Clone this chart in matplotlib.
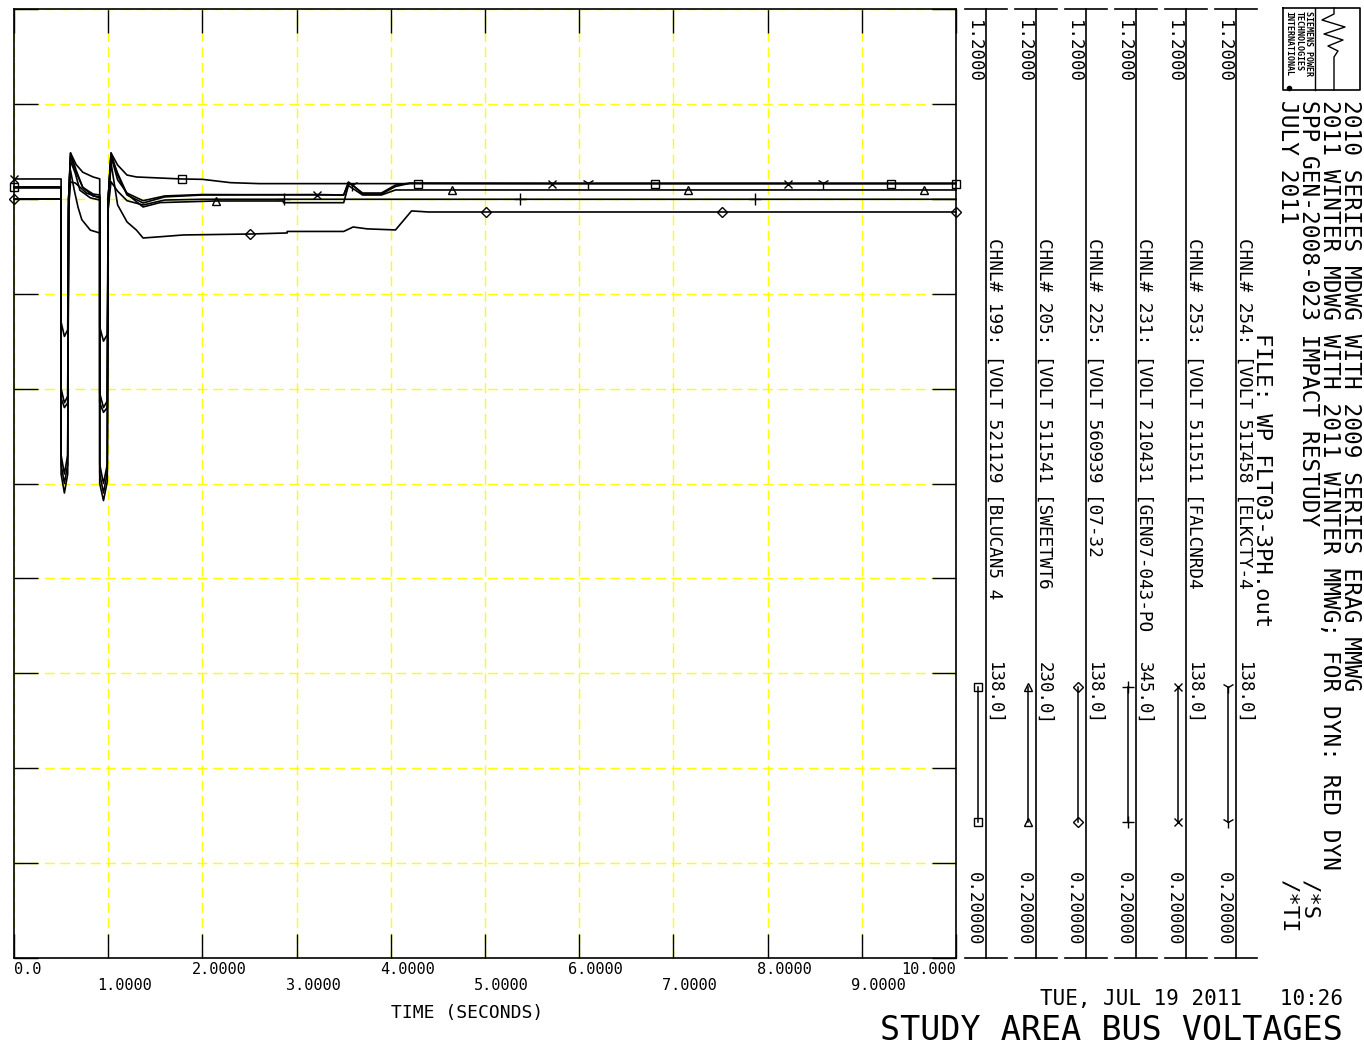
import matplotlib
matplotlib.use('Agg')
import matplotlib.pyplot as plt
from matplotlib.transforms import offset_copy

plt.rcParams['font.family'] = ['DejaVu Sans Mono']

# ---- channel data (time in s, voltage in pu) ----
t199 = [0.0, 0.50, 0.50, 0.535, 0.57, 0.58, 0.60, 0.66, 0.73, 0.84, 0.91, 0.91, 0.95, 0.99, 1.00, 1.03,
        1.10, 1.20, 1.30, 1.78, 2.00, 2.30, 2.60, 3.50, 4.29, 6.80, 9.31, 10.0]
v199 = [1.0124, 1.0124, 0.710, 0.690, 0.710, 1.000, 1.0483, 1.036, 1.028, 1.023, 1.021, 0.700, 0.682, 0.702,
        1.000, 1.0483, 1.0356, 1.025, 1.023, 1.0209, 1.0205, 1.017, 1.016, 1.016, 1.016, 1.016, 1.016, 1.016]

t205 = [0.0, 0.50, 0.50, 0.535, 0.57, 0.58, 0.60, 0.65, 0.70, 0.81, 0.91, 0.91, 0.95, 0.99, 1.00, 1.03,
        1.10, 1.20, 1.37, 1.55, 2.14, 2.86, 2.86, 3.50, 3.55, 3.70, 3.90, 4.05, 4.20, 4.65, 7.16, 9.66, 10.0]
v205 = [1.0114, 1.0114, 0.720, 0.700, 0.720, 1.000, 1.040, 1.027, 1.009, 1.001, 0.9987, 0.710, 0.690, 0.712,
        1.000, 1.045, 1.027, 1.005, 0.9914, 0.996, 0.9977, 0.9977, 0.9959, 0.9959, 1.014, 1.004, 1.004,
        1.0093, 1.0093, 1.0093, 1.0093, 1.0093, 1.0093]

t225 = [0.0, 0.50, 0.50, 0.535, 0.57, 0.58, 0.60, 0.64, 0.68, 0.72, 0.81, 0.91, 0.91, 0.95, 0.99, 1.00,
        1.03, 1.10, 1.20, 1.30, 1.37, 1.55, 1.80, 2.51, 2.90, 2.90, 3.50, 3.60, 3.75, 4.05, 4.22, 4.40,
        5.01, 7.52, 10.0]
v225 = [0.9998, 0.9998, 0.800, 0.785, 0.792, 0.990, 1.030, 1.009, 0.991, 0.978, 0.967, 0.964, 0.795, 0.780,
        0.787, 0.990, 1.038, 0.9935, 0.9756, 0.967, 0.9587, 0.960, 0.9619, 0.9629, 0.9640, 0.9656, 0.9656,
        0.9703, 0.9683, 0.9672, 0.9872, 0.9861, 0.9861, 0.9861, 0.9861]

t231 = [0.0, 0.50, 0.50, 0.535, 0.57, 0.58, 0.60, 0.65, 0.77, 0.91, 0.91, 0.95, 0.99, 1.00, 1.03, 1.10,
        1.20, 1.37, 1.60, 2.00, 2.87, 5.37, 7.87, 10.0]
v231 = [0.9998, 0.9998, 0.870, 0.855, 0.862, 0.990, 1.0177, 1.0167, 1.006, 1.0008, 0.865, 0.850, 0.857,
        0.990, 1.018, 1.008, 0.998, 0.9935, 0.9987, 0.9995, 0.9995, 0.9995, 0.9995, 0.9995]

t253 = [0.0, 0.50, 0.50, 0.535, 0.57, 0.58, 0.60, 0.66, 0.73, 0.84, 0.91, 0.91, 0.95, 0.99, 1.00, 1.03,
        1.10, 1.20, 1.37, 1.60, 2.00, 3.22, 3.50, 3.55, 3.70, 3.90, 4.05, 4.20, 5.71, 8.22, 10.0]
v253 = [1.0209, 1.0209, 0.790, 0.780, 0.785, 1.000, 1.0483, 1.030, 1.012, 1.003, 1.0019, 0.785, 0.775,
        0.780, 1.000, 1.0483, 1.025, 1.004, 0.9956, 1.002, 1.004, 1.0045, 1.004, 1.0177, 1.0061, 1.0061,
        1.0145, 1.0165, 1.0161, 1.0161, 1.0161]

t254 = [0.0, 0.50, 0.50, 0.535, 0.57, 0.58, 0.60, 0.65, 0.73, 0.84, 0.91, 0.91, 0.95, 0.99, 1.00, 1.03,
        1.10, 1.20, 1.37, 1.60, 2.00, 3.50, 3.55, 3.59, 3.70, 3.90, 4.05, 4.20, 6.09, 8.59, 10.0]
v254 = [1.0124, 1.0124, 0.730, 0.710, 0.730, 1.000, 1.045, 1.030, 1.012, 1.005, 1.004, 0.720, 0.700,
        0.720, 1.000, 1.045, 1.020, 1.006, 0.998, 1.003, 1.0045, 1.004, 1.016, 1.015, 1.005, 1.005, 1.013,
        1.0163, 1.0163, 1.0163, 1.0163]

# marker times on each trace
mk199 = [0.0, 1.78, 4.29, 6.80, 9.31, 10.0]
mk205 = [2.14, 4.65, 7.16, 9.66]
mk225 = [0.0, 2.51, 5.01, 7.52, 10.0]
mk231 = [2.87, 5.37, 7.87]
mk253 = [0.0, 3.22, 5.71, 8.22]
mk254 = [3.59, 6.09, 8.59]

chan_labels = ['CHNL# 199: [VOLT 521129 [BLUCAN5 4', 'CHNL# 205: [VOLT 511541 [SWEETWT6',
               'CHNL# 225: [VOLT 560939 [07-32', 'CHNL# 231: [VOLT 210431 [GEN07-043-PO',
               'CHNL# 253: [VOLT 511511 [FALCNRD4', 'CHNL# 254: [VOLT 511458 [ELKCTY-4']
chan_kv = ['138.0]', '230.0]', '138.0]', '345.0]', '138.0]', '138.0]']
y_max_lbl = '1.2000'
y_min_lbl = '0.20000'
x_ticks = [0, 1, 2, 3, 4, 5, 6, 7, 8, 9, 10]
x_tick_labels = ['0.0', '1.0000', '2.0000', '3.0000', '4.0000', '5.0000', '6.0000', '7.0000',
                 '8.0000', '9.0000', '10.000']
header = ['2010 SERIES MDWG WITH 2009 SERIES ERAG MMWG',
          '2011 WINTER MDWG WITH 2011 WINTER MMWG; FOR DYN: RED DYN',
          'SPP GEN-2008-023 IMPACT RESTUDY',
          'JULY 2011']

series = [(t199, v199, mk199, 's', 6), (t205, v205, mk205, '^', 6), (t225, v225, mk225, 'D', 5),
          (t231, v231, mk231, '+', 9), (t253, v253, mk253, 'x', 6), (t254, v254, mk254, '1', 9)]

W, H = 1364, 1045
fig = plt.figure(figsize=(W / 100, H / 100), dpi=100)

# overlay in pixel coords for the legend panel / header
ov = fig.add_axes([0, 0, 1, 1])
ov.set_xlim(0, W)
ov.set_ylim(H, 0)
ov.axis('off')

ax = fig.add_axes([14 / W, 1 - 958 / H, 942 / W, 949 / H])
ax.set_xlim(0, 10)
ax.set_ylim(0.2, 1.2)
ax.set_xticks(x_ticks)
ax.set_yticks([0.2, 0.3, 0.4, 0.5, 0.6, 0.7, 0.8, 0.9, 1.0, 1.1, 1.2])
ax.tick_params(direction='in', length=17.3, width=1.0, color='black', top=True, right=True,
               labelbottom=False, labelleft=False)
ax.grid(True, color='#ffff00', linestyle=(0, (7, 4)), linewidth=1.0)
for sp in ax.spines.values():
    sp.set_linewidth(1.2)

for t, v, mk, m, ms in series:
    idx = [t.index(x) for x in mk]
    ax.plot(t, v, color='black', lw=1.2, marker=m, ms=ms, mfc='none', mec='black', mew=1.0,
            markevery=idx, clip_on=False)

# x tick labels, staggered like the original
base = ax.get_xaxis_transform()
for i, (xt, lab) in enumerate(zip(x_ticks, x_tick_labels)):
    dy = -11 if i % 2 == 0 else -27
    if i == 0:
        dx, ha = 0, 'left'
    elif i == len(x_ticks) - 1:
        dx, ha = 0, 'right'
    else:
        dx, ha = -11, 'left'
    tr = offset_copy(base, fig=fig, x=dx, y=dy, units='dots')
    ax.text(xt, 0, lab, transform=tr, ha=ha, va='center', fontsize=11, clip_on=False)

ov.text(467, 1013, 'TIME (SECONDS)', ha='center', va='center', fontsize=13)
ov.text(1343, 999, 'TUE, JUL 19 2011   10:26', ha='right', va='center', fontsize=15)
ov.text(1343, 1030, 'STUDY AREA BUS VOLTAGES', ha='right', va='center', fontsize=24)

# legend bands
for i, (t, v, mk, m, ms) in enumerate(series):
    L = 985.5 + 50 * i
    ov.plot([L, L], [9, 958], color='black', lw=1.2)
    ov.plot([L - 21, L + 21], [9, 9], color='black', lw=1.2)
    ov.plot([L - 21, L + 21], [958, 958], color='black', lw=1.2)
    ov.text(L - 12, 20, y_max_lbl, rotation=270, ha='center', va='top', fontsize=12.5)
    ov.text(L - 12, 946, y_min_lbl, rotation=270, ha='center', va='bottom', fontsize=12.5)
    ov.text(L + 9, 238, chan_labels[i], rotation=270, ha='center', va='top', fontsize=12.8)
    ov.text(L + 9, 662, chan_kv[i], rotation=270, ha='center', va='top', fontsize=12.5)
    ov.plot([L - 8, L - 8], [687, 822], color='black', lw=1.1, marker=m, ms=ms, mfc='none',
            mec='black', mew=1.0)

# header text
for j, line in enumerate(header):
    ov.text(1351 - 21.3 * j, 100, line, rotation=270, ha='center', va='top', fontsize=16.4)
ov.text(1262, 333, 'FILE: WP_FLT03-3PH.out', rotation=270, ha='center', va='top', fontsize=16)
ov.text(1309, 880, '/*S', rotation=270, ha='center', va='top', fontsize=16)
ov.text(1288, 880, '/*TI', rotation=270, ha='center', va='top', fontsize=16)

# logo box
ov.plot([1283, 1360, 1360, 1283, 1283], [8, 8, 90, 90, 8], color='black', lw=1.2)
ov.plot([1315, 1315], [8, 90], color='black', lw=1.0)
wave_x = [1334, 1334, 1322, 1345, 1324, 1343, 1328, 1338, 1334, 1334]
wave_y = [8, 14, 20, 27, 34, 40, 46, 51, 57, 90]
ov.plot(wave_x, wave_y, color='black', lw=1.0)
for j, s in enumerate(['SIEMENS POWER', 'TECHNOLOGIES', 'INTERNATIONAL']):
    ov.text(1309 - 10 * j, 11, s, rotation=270, ha='center', va='top', fontsize=6,
            fontweight='bold')
ov.plot([1289], [88], 'o', color='black', ms=3)

fig.savefig('out.png', dpi=100)
